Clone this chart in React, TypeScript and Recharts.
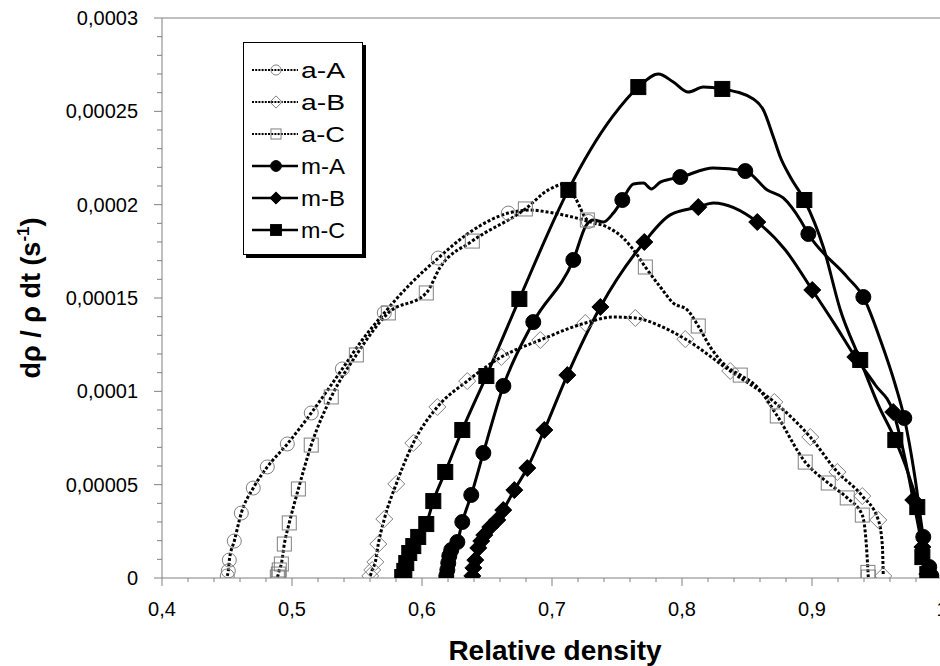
import React from "react";
import {
  ComposedChart,
  Line,
  Scatter,
  XAxis,
  YAxis,
  Legend,
  ReferenceLine,
  Label,
} from "recharts";

// [relative density, dρ/ρdt in 1e-5 s^-1]
type P = [number, number];

const aA_line: P[] = [
  [0.4502, 0.11], [0.451, 0.38], [0.4518, 0.96], [0.4556, 1.98], [0.461, 3.48],
  [0.4702, 4.82], [0.481, 5.95], [0.4964, 7.18], [0.5148, 8.84], [0.5387, 11.2],
  [0.554, 12.75], [0.571, 14.2], [0.591, 15.75], [0.6125, 17.14], [0.6372, 18.54],
  [0.6664, 19.55], [0.6833, 19.71], [0.6964, 19.61], [0.7087, 19.45], [0.7218, 19.23],
  [0.7279, 19.1],
];
const aA_marks: P[] = [
  [0.4502, 0.11], [0.451, 0.38], [0.4518, 0.96], [0.4556, 1.98], [0.461, 3.48],
  [0.4702, 4.82], [0.481, 5.95], [0.4964, 7.18], [0.5148, 8.84], [0.5387, 11.2],
  [0.571, 14.2], [0.6125, 17.14], [0.6664, 19.55], [0.7279, 19.1],
];

const aB_line: P[] = [
  [0.5602, 0.11], [0.5617, 0.43], [0.5641, 0.86], [0.5664, 1.82], [0.571, 3.16],
  [0.5802, 5.04], [0.5933, 7.23], [0.6118, 9.16], [0.6348, 10.55], [0.661, 11.84],
  [0.691, 12.75], [0.7256, 13.66], [0.7472, 13.98], [0.7641, 13.93], [0.7833, 13.5],
  [0.8025, 12.8], [0.8371, 11.09], [0.871, 9.43], [0.8987, 7.55], [0.9195, 5.68],
  [0.9387, 4.39], [0.951, 3.11], [0.9541, 1.77], [0.9548, 0.11],
];
const aB_marks: P[] = [
  [0.5602, 0.11], [0.5617, 0.43], [0.5641, 0.86], [0.5664, 1.82], [0.571, 3.16],
  [0.5802, 5.04], [0.5933, 7.23], [0.6118, 9.16], [0.6348, 10.55], [0.661, 11.84],
  [0.691, 12.75], [0.7256, 13.66], [0.7641, 13.93], [0.8025, 12.8], [0.8371, 11.09],
  [0.871, 9.43], [0.8987, 7.55], [0.9195, 5.68], [0.9387, 4.39], [0.951, 3.11],
  [0.9548, 0.11],
];

const aC_line: P[] = [
  [0.4887, 0.05], [0.4895, 0.21], [0.4902, 0.43], [0.4918, 0.75], [0.4941, 1.82],
  [0.4979, 2.95], [0.5049, 4.77], [0.5148, 7.12], [0.5302, 9.7], [0.5495, 11.95],
  [0.5741, 14.2], [0.6033, 15.27], [0.6141, 16.66], [0.6387, 18.05], [0.6795, 19.77],
  [0.6972, 20.79], [0.7102, 21.11], [0.7179, 20.36], [0.7272, 19.18], [0.7425, 18.8],
  [0.7548, 18.21], [0.7656, 17.3], [0.7718, 16.66], [0.7833, 15.59], [0.7933, 14.73],
  [0.8041, 14.36], [0.8125, 13.5], [0.8218, 12.37], [0.8348, 11.3], [0.8448, 10.87],
  [0.8579, 10.23], [0.8733, 8.68], [0.8948, 6.21], [0.9125, 5.09], [0.9271, 4.29],
  [0.9387, 3.37], [0.9418, 1.77], [0.9433, 0.05],
];
const aC_marks: P[] = [
  [0.4887, 0.05], [0.4895, 0.21], [0.4902, 0.43], [0.4918, 0.75], [0.4941, 1.82],
  [0.4979, 2.95], [0.5049, 4.77], [0.5148, 7.12], [0.5302, 9.7], [0.5495, 11.95],
  [0.5741, 14.2], [0.6033, 15.27], [0.6387, 18.05], [0.6795, 19.77], [0.7272, 19.18],
  [0.7718, 16.66], [0.8125, 13.5], [0.8448, 10.87], [0.8733, 8.68], [0.8948, 6.21],
  [0.9125, 5.09], [0.9271, 4.29], [0.9387, 3.37], [0.943, 0.3], [0.9433, 0.05],
];

const mA_line: P[] = [
  [0.6187, 0.11], [0.6195, 0.43], [0.6202, 0.8], [0.621, 1.18], [0.6225, 1.5],
  [0.6272, 1.93], [0.631, 3.0], [0.6379, 4.45], [0.6472, 6.7], [0.6626, 10.29],
  [0.6856, 13.71], [0.7164, 17.04], [0.7264, 18.91], [0.7318, 19.18], [0.7395, 19.07],
  [0.7472, 19.55], [0.7541, 20.25], [0.7626, 21.11], [0.7703, 21.16], [0.7764, 20.84],
  [0.7833, 21.21], [0.791, 21.37], [0.7987, 21.48], [0.8241, 21.96], [0.8487, 21.8],
  [0.8656, 20.79], [0.8779, 20.36], [0.891, 19.18], [0.8972, 18.43], [0.9271, 16.12],
  [0.9395, 15.05], [0.9526, 12.75], [0.9641, 10.34], [0.971, 8.57], [0.9795, 5.25],
  [0.9856, 2.2], [0.9902, 0.59], [0.9918, 0.11],
];
const mA_marks: P[] = [
  [0.6187, 0.11], [0.6195, 0.43], [0.6202, 0.8], [0.621, 1.18], [0.6225, 1.5],
  [0.6272, 1.93], [0.631, 3.0], [0.6379, 4.45], [0.6472, 6.7], [0.6626, 10.29],
  [0.6856, 13.71], [0.7164, 17.04], [0.7541, 20.25], [0.7987, 21.48], [0.8487, 21.8],
  [0.8972, 18.43], [0.9395, 15.05], [0.971, 8.57], [0.9856, 2.2], [0.9902, 0.59],
  [0.9918, 0.11],
];

const mB_line: P[] = [
  [0.6387, 0.11], [0.6395, 0.54], [0.641, 0.96], [0.6433, 1.61], [0.6456, 1.98],
  [0.6479, 2.3], [0.6525, 2.73], [0.6579, 3.11], [0.6625, 3.64], [0.671, 4.71],
  [0.681, 5.89], [0.6941, 7.93], [0.7118, 10.87], [0.7372, 14.52], [0.771, 18.0],
  [0.791, 19.45], [0.8125, 19.87], [0.8241, 20.09], [0.8579, 19.07], [0.8795, 17.57],
  [0.9002, 15.43], [0.9179, 13.55], [0.9333, 11.84], [0.9487, 10.34], [0.9625, 8.89],
  [0.9718, 6.32], [0.9779, 4.18], [0.9849, 1.66], [0.9887, 0.21],
];
const mB_marks: P[] = [
  [0.6387, 0.11], [0.6395, 0.54], [0.641, 0.96], [0.6433, 1.61], [0.6456, 1.98],
  [0.6479, 2.3], [0.6525, 2.73], [0.6579, 3.11], [0.6625, 3.64], [0.671, 4.71],
  [0.681, 5.89], [0.6941, 7.93], [0.7118, 10.87], [0.7372, 14.52], [0.771, 18.0],
  [0.8125, 19.87], [0.8579, 19.07], [0.9002, 15.43], [0.9333, 11.84], [0.9625, 8.89],
  [0.9779, 4.18], [0.9849, 1.66], [0.9887, 0.21],
];

const mC_line: P[] = [
  [0.5848, 0.05], [0.5864, 0.38], [0.5879, 0.8], [0.5902, 1.34], [0.5933, 1.71],
  [0.5971, 2.2], [0.6033, 2.89], [0.6087, 4.12], [0.6179, 5.68], [0.631, 7.93],
  [0.6495, 10.82], [0.6749, 14.95], [0.7126, 20.79], [0.7295, 22.93], [0.7464, 24.7],
  [0.7664, 26.3], [0.7818, 27.0], [0.7933, 26.57], [0.8048, 26.03], [0.8164, 26.3],
  [0.831, 26.2], [0.8549, 25.66], [0.8626, 25.07], [0.8703, 23.62], [0.8756, 22.55],
  [0.8833, 21.48], [0.8941, 20.25], [0.9087, 17.73], [0.9218, 14.36], [0.9371, 11.68],
  [0.951, 9.27], [0.9641, 7.39], [0.9756, 5.25], [0.981, 3.8], [0.9849, 1.12],
  [0.9887, 0.21],
];
const mC_marks: P[] = [
  [0.5848, 0.05], [0.5864, 0.38], [0.5879, 0.8], [0.5902, 1.34], [0.5933, 1.71],
  [0.5971, 2.2], [0.6033, 2.89], [0.6087, 4.12], [0.6179, 5.68], [0.631, 7.93],
  [0.6495, 10.82], [0.6749, 14.95], [0.7126, 20.79], [0.7664, 26.3], [0.831, 26.2],
  [0.8941, 20.25], [0.9371, 11.68], [0.9641, 7.39], [0.981, 3.8], [0.9849, 1.12],
  [0.9887, 0.21],
];

const xTickLabels = ["0,4", "0,5", "0,6", "0,7", "0,8", "0,9", "1"];
const yTickLabels = ["0", "0,00005", "0,0001", "0,00015", "0,0002", "0,00025", "0,0003"];

type Shape = "circle" | "diamond" | "square";

const series: { name: string; line: P[]; marks: P[]; shape: Shape; filled: boolean }[] = [
  { name: "a-A", line: aA_line, marks: aA_marks, shape: "circle", filled: false },
  { name: "a-B", line: aB_line, marks: aB_marks, shape: "diamond", filled: false },
  { name: "a-C", line: aC_line, marks: aC_marks, shape: "square", filled: false },
  { name: "m-A", line: mA_line, marks: mA_marks, shape: "circle", filled: true },
  { name: "m-B", line: mB_line, marks: mB_marks, shape: "diamond", filled: true },
  { name: "m-C", line: mC_line, marks: mC_marks, shape: "square", filled: true },
];

const AXIS = "#808080";
const FONT = "'Liberation Sans', Arial, sans-serif";

const toRows = (pts: P[]) => pts.map(([x, y]) => ({ x, y }));

// minor ticks every 0.02 on x and 0.00001 on y
const xTicks = Array.from({ length: 31 }, (_, i) => Math.round((0.4 + i * 0.02) * 100) / 100);
const yTicks = Array.from({ length: 31 }, (_, i) => i);

function Marker({ cx, cy, shape, filled, scale = 1 }: any) {
  if (cx == null || cy == null) return null;
  const stroke = filled ? "#000" : "#808080";
  const fill = filled ? "#000" : "none";
  if (shape === "circle") {
    return <circle cx={cx} cy={cy} r={(filled ? 7.5 : 7) * scale} fill={fill} stroke={stroke} strokeWidth={1} />;
  }
  if (shape === "diamond") {
    const h = 8.5 * scale;
    return (
      <polygon
        points={`${cx},${cy - h} ${cx + h},${cy} ${cx},${cy + h} ${cx - h},${cy}`}
        fill={fill}
        stroke={stroke}
        strokeWidth={1}
      />
    );
  }
  const s = (filled ? 15 : 14) * scale;
  return <rect x={cx - s / 2} y={cy - s / 2} width={s} height={s} fill={fill} stroke={stroke} strokeWidth={1} />;
}

function XTick(props: any) {
  const { x, y, payload } = props;
  const i = Math.round((payload.value - 0.4) / 0.02);
  const major = i % 5 === 0;
  return (
    <g>
      <line x1={x} x2={x} y1={y} y2={y + (major ? 8 : 4)} stroke={AXIS} />
      {major && (
        <text x={x} y={y + 24} dy="0.71em" textAnchor="middle" fontSize={20} fill="#000" fontFamily={FONT}>
          {xTickLabels[i / 5]}
        </text>
      )}
    </g>
  );
}

function YTick(props: any) {
  const { x, y, payload } = props;
  const i = Math.round(payload.value);
  const major = i % 5 === 0;
  return (
    <g>
      <line x1={x} x2={x - (major ? 8 : 5)} y1={y} y2={y} stroke={AXIS} />
      {major && (
        <text x={x - 24} y={y} dy="0.355em" textAnchor="end" fontSize={20} fill="#000" fontFamily={FONT}>
          {yTickLabels[i / 5]}
        </text>
      )}
    </g>
  );
}

function LegendBox() {
  return (
    <div
      style={{
        width: 120,
        height: 213,
        border: "1px solid #000",
        boxShadow: "3px 3px 0 #000",
        background: "#fff",
        paddingTop: 11,
        boxSizing: "border-box",
      }}
    >
      {series.map((s) => (
        <svg key={s.name} width={118} height={32} style={{ display: "block" }}>
          <line
            x1={8}
            x2={54}
            y1={16}
            y2={16}
            stroke="#000"
            strokeWidth={s.filled ? 2.5 : 1.8}
            strokeDasharray={s.filled ? undefined : "2 1.2"}
          />
          <Marker cx={32} cy={16} shape={s.shape} filled={s.filled} scale={0.72} />
          <text
            x={57}
            y={16}
            dy="0.36em"
            fontSize={22}
            fill="#000"
            fontFamily={FONT}
            textLength={44}
            lengthAdjust="spacingAndGlyphs"
          >
            {s.name}
          </text>
        </svg>
      ))}
    </div>
  );
}

function YTitle() {
  return (
    <text transform="translate(40, 298) rotate(-90)" textAnchor="middle" fontSize={27} fontWeight="bold" fill="#000" fontFamily={FONT}>
      <tspan>dρ / ρ dt (s</tspan>
      <tspan dy={-11} fontSize={17}>-1</tspan>
      <tspan dy={11}>)</tspan>
    </text>
  );
}

function XTitle() {
  return (
    <text x={555} y={660} textAnchor="middle" fontSize={28} fontWeight="bold" fill="#000" fontFamily={FONT}>
      Relative density
    </text>
  );
}

export default function App() {
  return (
    <div
      style={{
        position: "fixed",
        left: 0,
        top: 0,
        width: 940,
        height: 666,
        overflow: "hidden",
        background: "#fff",
        fontFamily: FONT,
      }}
    >
      <ComposedChart width={960} height={666} margin={{ top: 18, right: 18, bottom: 0, left: 0 }}>
        <XAxis
          dataKey="x"
          type="number"
          domain={[0.4, 1]}
          allowDataOverflow
          ticks={xTicks}
          interval={0}
          tickSize={0}
          tickMargin={0}
          tickLine={false}
          tick={<XTick />}
          axisLine={{ stroke: AXIS }}
          height={88}
        >
          <Label content={<XTitle />} />
        </XAxis>
        <YAxis
          type="number"
          domain={[0, 30]}
          allowDataOverflow
          ticks={yTicks}
          interval={0}
          tickSize={0}
          tickMargin={0}
          tickLine={false}
          tick={<YTick />}
          axisLine={{ stroke: AXIS }}
          width={162}
        >
          <Label content={<YTitle />} />
        </YAxis>
        <ReferenceLine y={30} stroke={AXIS} />
        {series.map((s) => [
          <Line
            key={s.name + "-line"}
            data={toRows(s.line)}
            dataKey="y"
            type="monotone"
            stroke="#000"
            strokeWidth={s.filled ? 3 : 3}
            strokeDasharray={s.filled ? undefined : "3 2"}
            dot={false}
            activeDot={false}
            legendType="none"
            isAnimationActive={false}
          />,
          <Scatter
            key={s.name + "-marks"}
            name={s.name}
            data={toRows(s.marks)}
            dataKey="y"
            shape={(p: any) => <Marker cx={p.cx} cy={p.cy} shape={s.shape} filled={s.filled} />}
            isAnimationActive={false}
          />,
        ])}
        <Legend
          layout="vertical"
          verticalAlign="middle"
          align="center"
          content={() => <LegendBox />}
          wrapperStyle={{ left: 243, top: 42, width: 123, height: 216 }}
        />
      </ComposedChart>
    </div>
  );
}
